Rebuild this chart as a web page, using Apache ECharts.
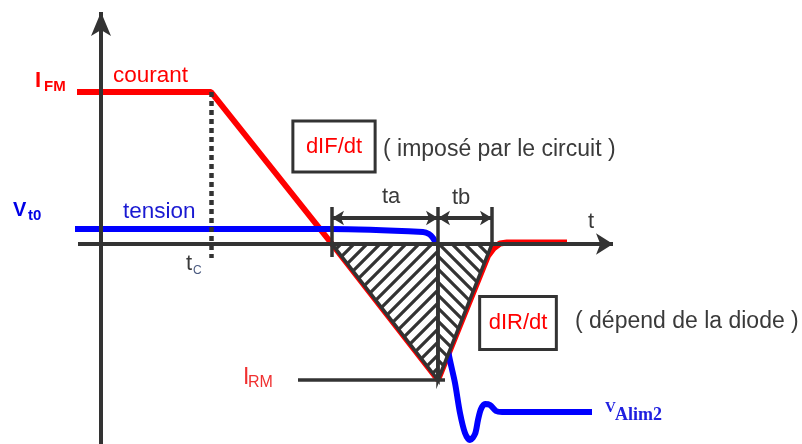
<!DOCTYPE html>
<html>
<head>
<meta charset="utf-8">
<script src="https://cdn.jsdelivr.net/npm/echarts@6/dist/echarts.min.js"></script>
<style>
  html, body { margin: 0; padding: 0; background: #fff; }
  #chart { width: 802px; height: 444px; }
</style>
</head>
<body>
<div id="chart"></div>
<script>
// unites : 1 = 10 px, origine au croisement des axes
var courant = [[-2.4, 15.2], [11, 15.2], [23.1, 0], [33.7, -13.6], [38.7, -1.2], [39.3, -0.4], [39.9, 0.05], [40.6, 0.15], [46.6, 0.15]];
var tension = [[-2.6, 1.5], [22.9, 1.5], [32.2, 1.2], [32.8, 1.0], [33.2, 0.6], [33.5, 0], [33.9, -3.6], [34.7, -10.6],
  [35.4, -13.9], [35.9, -16.9], [36.4, -18.9], [36.9, -19.6], [37.4, -19], [37.7, -17.6], [38, -16.5],
  [38.4, -16], [38.9, -16.1], [39.5, -16.7], [40.1, -16.8], [49.1, -16.8]];

var zoneTa = [[23.1, 0], [33.7, 0], [33.7, -13.6]];
var zoneTb = [[33.7, 0], [39.1, 0], [33.7, -13.6]];

var traits = [
  [[23.1, 3.7], [23.1, -1.3]],
  [[33.7, 3.7], [33.7, -13.6]],
  [[39.1, 3.7], [39.1, 0]],
  [[19.7, -13.6], [34.4, -13.6]]
];
var traitTc = [[11, 15.2], [11, -1.4]];

var axeX = [[-2.3, 0], [51.2, 0]];
var axeY = [[0, -20], [0, 23.2]];
var flecheTa = [[23.1, 2.6], [33.7, 2.6]];
var flecheTb = [[33.7, 2.6], [39.1, 2.6]];

var textes = [
  ['I', -6.6, 16.3, 'rougeGras'],
  ['FM', -5.7, 15.7, 'rougeIndice'],
  ['courant', 1.2, 16.8, 'rouge'],
  ['V', -8.8, 3.4, 'bleuGras'],
  ['t0', -7.3, 2.8, 'bleuIndice'],
  ['tension', 2.2, 3.2, 'bleu'],
  ['t', 8.5, -2.0, 'gris'],
  ['C', 9.2, -2.7, 'grisIndice'],
  ['ta', 28.1, 4.7, 'gris'],
  ['tb', 35.1, 4.6, 'gris'],
  ['t', 48.7, 2.2, 'gris'],
  ['( imposé par le circuit )', 28.2, 9.4, 'note'],
  ['( dépend de la diode )', 47.4, -7.8, 'note'],
  ['I', 14.2, -13.4, 'rougeI'],
  ['RM', 14.7, -13.9, 'rougeRM'],
  ['V', 50.4, -16.4, 'serifV'],
  ['Alim2', 51.4, -17.1, 'serif']
];
var boites = [
  ['dIF/dt', 23.3, 9.75, [13, 11.5]],
  ['dIR/dt', 41.7, -7.9, [14, 7.5]]
];

var styles = {
  rougeGras: { color: '#ff0000', fontSize: 22, fontWeight: 'bold' },
  rougeIndice: { color: '#ff0000', fontSize: 15, fontWeight: 'bold' },
  rouge: { color: '#ff0000', fontSize: 22.5 },
  bleuGras: { color: '#0000e6', fontSize: 20, fontWeight: 'bold' },
  bleuIndice: { color: '#0000e6', fontSize: 15, fontWeight: 'bold' },
  bleu: { color: '#1a1ad2', fontSize: 22.5 },
  gris: { color: '#3a3a3a', fontSize: 22 },
  grisIndice: { color: '#4a5a80', fontSize: 12 },
  note: { color: '#3a3a3a', fontSize: 23 },
  rougeI: { color: '#f03030', fontSize: 23 },
  rougeRM: { color: '#f03030', fontSize: 16 },
  serifV: { color: '#2020e0', fontSize: 15, fontWeight: 'bold', fontFamily: 'Liberation Serif' },
  serif: { color: '#2020e0', fontSize: 18, fontWeight: 'bold', fontFamily: 'Liberation Serif' }
};

// motif de hachures
function hachure(sens) {
  var s = 13;
  var c = document.createElement('canvas');
  c.width = s; c.height = s;
  var ctx = c.getContext('2d');
  ctx.fillStyle = '#fff';
  ctx.fillRect(0, 0, s, s);
  ctx.strokeStyle = '#333';
  ctx.lineWidth = 3.2;
  ctx.beginPath();
  for (var k = -1; k <= 2; k++) {
    var d = k * s;
    if (sens > 0) {  // "/"
      ctx.moveTo(d + 3, -3); ctx.lineTo(d - s - 3, s + 3);
    } else {  // "\"
      ctx.moveTo(d - 3, -3); ctx.lineTo(d + s + 3, s + 3);
    }
  }
  ctx.stroke();
  return { image: c, repeat: 'repeat' };
}

function triangle(pts, motif) {
  return function (params, api) {
    if (params.dataIndex !== 0) return;
    return {
      type: 'polygon',
      shape: { points: pts.map(function (p) { return api.coord(p); }) },
      style: { fill: motif, stroke: '#333', lineWidth: 3.5, lineJoin: 'miter' }
    };
  };
}

var fontBase = 'Liberation Sans';
var labelData = textes.map(function (t) {
  var st = styles[t[3]];
  return {
    value: [t[1], t[2]],
    label: {
      show: true, position: 'right', distance: 0, formatter: t[0],
      color: st.color, fontSize: st.fontSize, fontWeight: st.fontWeight || 'normal',
      fontFamily: st.fontFamily || fontBase
    }
  };
});
boites.forEach(function (b) {
  labelData.push({
    value: [b[1], b[2]],
    label: {
      show: true, position: 'inside', formatter: b[0], color: '#ff0000', fontSize: 22,
      fontFamily: fontBase, backgroundColor: '#fff', borderColor: '#333', borderWidth: 3, padding: b[3]
    }
  });
});

function fleche(seg, deb, fin, taille) {
  return [
    { coord: seg[0], symbol: deb, symbolSize: taille },
    { coord: seg[1], symbol: fin, symbolSize: taille }
  ];
}

var chart = echarts.init(document.getElementById('chart'));
chart.setOption({
  animation: false,
  backgroundColor: '#fff',
  grid: { left: 0, right: 0, top: 0, bottom: 0 },
  xAxis: { type: 'value', min: -10.1, max: 70.1, show: false },
  yAxis: { type: 'value', min: -20, max: 24.4, show: false },
  series: [
    {
      name: 'courant', type: 'line', z: 2, data: courant, symbol: 'none',
      lineStyle: { color: '#ff0000', width: 6 }
    },
    {
      name: 'tension', type: 'line', z: 2, data: tension, symbol: 'none', smooth: 0.3,
      lineStyle: { color: '#0000ff', width: 6 }
    },
    {
      type: 'custom', z: 3, data: zoneTa, renderItem: triangle(zoneTa, hachure(1))
    },
    {
      type: 'custom', z: 3, data: zoneTb, renderItem: triangle(zoneTb, hachure(-1))
    },
    {
      type: 'lines', coordinateSystem: 'cartesian2d', z: 4,
      data: traits.map(function (t) { return { coords: t }; }),
      lineStyle: { color: '#333', width: 3.5, opacity: 1 }
    },
    {
      type: 'lines', coordinateSystem: 'cartesian2d', z: 4,
      data: [{ coords: traitTc }],
      lineStyle: { color: '#333', width: 4.5, type: [5, 4], opacity: 1 }
    },
    {
      type: 'line', z: 4, data: [], symbol: 'none',
      markLine: {
        silent: true, z: 4, label: { show: false },
        lineStyle: { color: '#333', width: 4, type: 'solid' },
        data: [
          fleche(axeX, 'none', 'arrow', [16, 17]),
          fleche(axeY, 'none', 'arrow', [15, 24]),
          fleche(flecheTa, 'arrow', 'arrow', [11, 12]),
          fleche(flecheTb, 'arrow', 'arrow', [11, 12])
        ]
      }
    },
    {
      type: 'scatter', z: 5, symbolSize: 0, data: labelData,
      itemStyle: { color: 'rgba(0,0,0,0)', opacity: 1 }
    }
  ]
});
</script>
</body>
</html>
